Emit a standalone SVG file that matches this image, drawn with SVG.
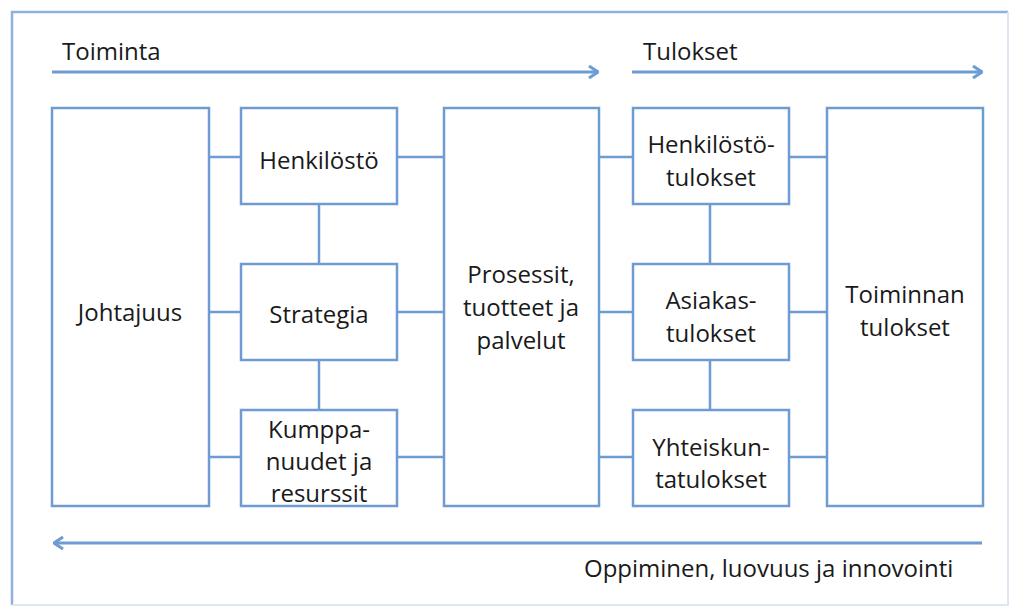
<svg xmlns="http://www.w3.org/2000/svg" width="1011" height="606" viewBox="0 0 1011 606">
<defs>
<style>
.box{fill:#ffffff;stroke:#6e9cd2;stroke-width:2.5}
.con{stroke:#6e9cd2;stroke-width:2.5;fill:none}
.arr{stroke:#6e9cd2;stroke-width:3;fill:none}
.t{font-family:"Open Sans","Liberation Sans",sans-serif;font-size:24px;fill:#1a1a1a}
.m{text-anchor:middle}
</style>
<marker id="ah" viewBox="0 0 12 14" refX="11" refY="7" markerWidth="12" markerHeight="14" markerUnits="userSpaceOnUse" orient="auto">
<path d="M2,1 L11,7 L2,13" fill="none" stroke="#6e9cd2" stroke-width="3" stroke-linejoin="miter"/>
</marker>
</defs>
<rect x="0" y="0" width="1011" height="606" fill="#ffffff"/>
<g id="frame">
<path d="M12,605 L12,12 L1008,12" fill="none" stroke="#8fb2dd" stroke-width="2.5"/>
<path d="M1008,12 L1008,605 L12,605" fill="none" stroke="#dde7f3" stroke-width="2"/>
</g>
<g id="connectors">
<line class="arr" x1="52" y1="72" x2="598" y2="72" marker-end="url(#ah)"/>
<line class="arr" x1="632" y1="72" x2="982" y2="72" marker-end="url(#ah)"/>
<line class="arr" x1="982" y1="543" x2="54" y2="543" marker-end="url(#ah)"/>
<line class="con" x1="208" y1="157" x2="241" y2="157"/>
<line class="con" x1="208" y1="312" x2="241" y2="312"/>
<line class="con" x1="208" y1="457" x2="241" y2="457"/>
<line class="con" x1="397" y1="157" x2="443" y2="157"/>
<line class="con" x1="397" y1="312" x2="443" y2="312"/>
<line class="con" x1="397" y1="457" x2="443" y2="457"/>
<line class="con" x1="319" y1="204" x2="319" y2="264"/>
<line class="con" x1="319" y1="360" x2="319" y2="410"/>
<line class="con" x1="599" y1="157" x2="633" y2="157"/>
<line class="con" x1="599" y1="312" x2="633" y2="312"/>
<line class="con" x1="599" y1="457" x2="633" y2="457"/>
<line class="con" x1="710" y1="204" x2="710" y2="264"/>
<line class="con" x1="710" y1="360" x2="710" y2="410"/>
<line class="con" x1="789" y1="157" x2="827" y2="157"/>
<line class="con" x1="789" y1="312" x2="827" y2="312"/>
<line class="con" x1="789" y1="457" x2="827" y2="457"/>
</g>
<g id="labels">
<text class="t" x="62" y="60">Toiminta</text>
<text class="t" x="643" y="60">Tulokset</text>
<text class="t" x="584" y="577">Oppiminen, luovuus ja innovointi</text>
</g>
<g id="johtajuus">
<rect class="box" x="52" y="108" width="157" height="398"/>
<text class="t m" x="130" y="321">Johtajuus</text>
</g>
<g id="henkilosto">
<rect class="box" x="241" y="108" width="156" height="96"/>
<text class="t m" x="319" y="169">Henkilöstö</text>
</g>
<g id="strategia">
<rect class="box" x="241" y="264" width="156" height="96"/>
<text class="t m" x="319" y="323">Strategia</text>
</g>
<g id="kumppanuudet">
<rect class="box" x="241" y="410" width="156" height="96"/>
<text class="t m" x="319" y="438">Kumppa-</text>
<text class="t m" x="319" y="470">nuudet ja</text>
<text class="t m" x="319" y="502">resurssit</text>
</g>
<g id="prosessit">
<rect class="box" x="444" y="108" width="155" height="398"/>
<text class="t m" x="521" y="283">Prosessit,</text>
<text class="t m" x="521" y="316">tuotteet ja</text>
<text class="t m" x="521" y="349">palvelut</text>
</g>
<g id="henkilostotulokset">
<rect class="box" x="633" y="108" width="156" height="96"/>
<text class="t m" x="711" y="153">Henkilöstö-</text>
<text class="t m" x="711" y="186">tulokset</text>
</g>
<g id="asiakastulokset">
<rect class="box" x="633" y="264" width="156" height="96"/>
<text class="t m" x="711" y="309">Asiakas-</text>
<text class="t m" x="711" y="342">tulokset</text>
</g>
<g id="yhteiskuntatulokset">
<rect class="box" x="633" y="410" width="156" height="96"/>
<text class="t m" x="711" y="456">Yhteiskun-</text>
<text class="t m" x="711" y="488">tatulokset</text>
</g>
<g id="toiminnantulokset">
<rect class="box" x="827" y="108" width="156" height="398"/>
<text class="t m" x="905" y="303">Toiminnan</text>
<text class="t m" x="905" y="336">tulokset</text>
</g>
</svg>
